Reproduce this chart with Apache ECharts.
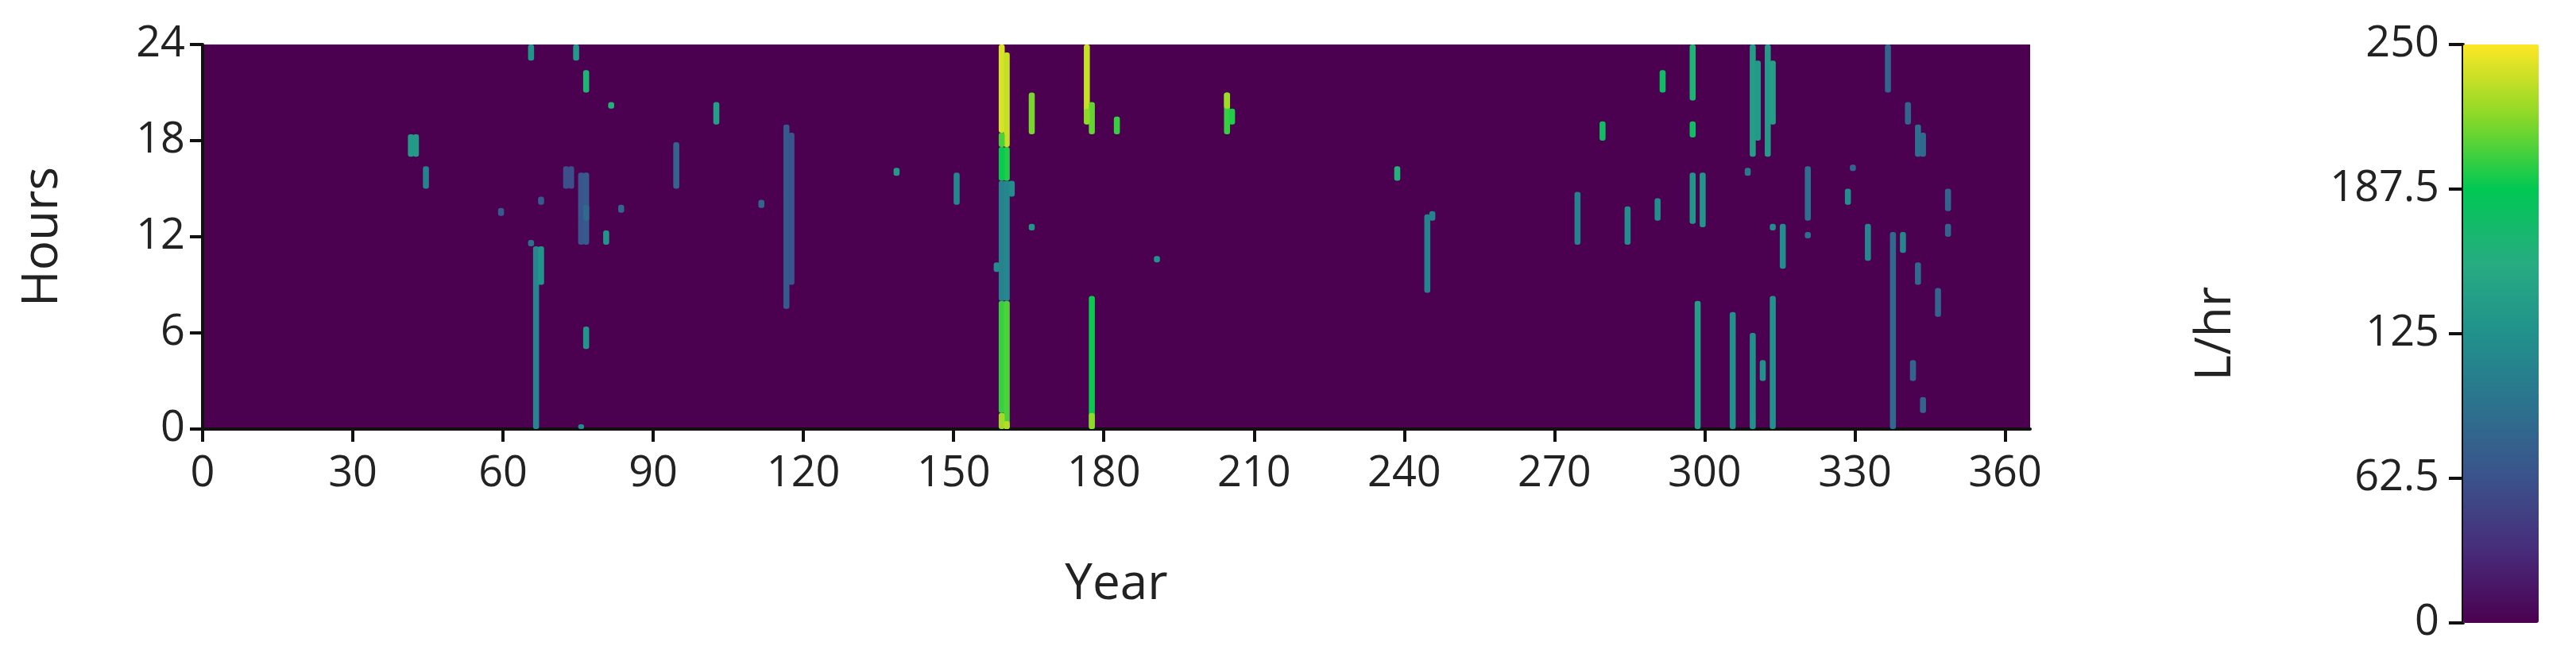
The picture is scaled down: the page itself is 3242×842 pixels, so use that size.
<!DOCTYPE html>
<html><head><meta charset="utf-8">
<script src="https://cdn.jsdelivr.net/npm/echarts@6/dist/echarts.min.js"></script>
<style>html,body{margin:0;padding:0;background:#fff}#c{width:3242px;height:842px}</style>
</head><body><div id="c"></div>
<script>
// streaks: [day, hourStart, hourEnd, L/hr]
const streaks = [
[65,23,24,130],[74,23,24,135],[76,21,22.4,165],[81,20,20.4,160],[102,19,20.4,140],
[41,17,18.4,135],[42,17,18.4,135],[44,15,16.4,110],[94,15,17.9,80],[116,7.5,19,70],[117,9,18.5,65],
[72,15,16.4,60],[73,15,16.4,60],[75,11.5,16,65],[76,11.5,16,70],[76,13,14,85],[80,11.5,12.4,130],
[83,13.5,14,80],[67,14,14.5,70],[59,13.3,13.8,70],[111,13.8,14.3,80],[65,11.4,11.8,90],
[66,0,11.4,115],[67,9,11.4,130],[76,5,6.4,130],[75,0,0.3,120],
[159,18.5,24,240],[160,17.6,23.5,235],[159,17.6,18.5,205],[160,15.5,17.6,195],[159,15.5,17.6,190],
[159,8,15.5,110],[160,8,15.5,115],[161,14.5,15.5,120],[158,9.8,10.4,120],
[159,1,8,200],[160,0,8,205],[159,0,1,225],[160,0,0.5,230],
[165,18.4,21,215],[165,12.4,12.8,130],[176,19.7,24,235],[177,18.4,20.4,210],[176,19,20,220],
[177,0,8.3,190],[177,0,1,220],[182,18.4,19.5,200],[204,18.4,21,200],[205,19,20,195],[204,20,21,225],
[190,10.4,10.8,130],[138,15.8,16.3,135],[150,14,16,115],[238,15.5,16.4,160],[244,8.5,13.4,110],[245,13,13.6,110],[274,11.5,14.8,110],
[291,21,22.4,175],[279,18,19.2,175],[297,20.5,24,165],[297,18.2,19.2,175],[297,12.8,16,130],[298,0,8,140],
[299,12.6,16,130],[309,17,24,140],[310,18,23,135],[312,17,24,135],[313,19,23,140],
[305,0,7.3,125],[309,0,6,125],[311,3,4.3,125],[313,0,8.3,125],[315,10,12.8,120],[313,12.4,12.8,120],
[308,15.8,16.3,100],[320,13,16.4,90],[320,11.9,12.3,90],[329,16.1,16.5,80],[328,14,15,120],[332,10.5,12.8,115],
[336,21,24,80],[337,0,12.3,85],[339,11,12.3,115],[340,19,20.4,80],[342,17,19,90],[343,17,18.5,85],
[342,9,10.4,85],[341,3,4.3,80],[343,1,2,80],[346,7,8.8,80],[348,13.6,15,80],[348,12,12.8,80],
[284,11.5,13.9,120],[290,13,14.4,120]
];
const xTicks=[0,30,60,90,120,150,180,210,240,270,300,330,360];
const yTicks=[0,6,12,18,24];
const cbTicks=[0,62.5,125,187.5,250];
const viridis=['#4b0150','#472c7a','#3b528b','#2c728e','#21918c','#27ad81','#00c853','#8ad828','#fde725'];
const lab={fontSize:54,color:'#222',fontFamily:'Open Sans, sans-serif'};
const nm={fontSize:62,color:'#222',fontFamily:'Open Sans, sans-serif'};
const ch=echarts.init(document.getElementById('c'));
ch.setOption({
 animation:false,
 grid:[{left:255,width:2300,top:56,height:484,show:true,backgroundColor:viridis[0],borderWidth:0},
       {left:3100,width:95,top:56,height:728,show:false}],
 xAxis:[{type:'value',gridIndex:0,min:0,max:365,
   axisLine:{show:true,lineStyle:{color:'#111',width:4}},
   axisTick:{show:true,length:16,lineStyle:{color:'#111',width:4},customValues:xTicks},
   axisLabel:Object.assign({margin:30,customValues:xTicks},lab),splitLine:{show:false},
   name:'Year',nameLocation:'middle',nameGap:165,nameTextStyle:nm},
  {type:'value',gridIndex:1,min:0,max:1,show:false}],
 yAxis:[{type:'value',gridIndex:0,min:0,max:24,interval:6,
   axisLine:{show:true,lineStyle:{color:'#111',width:4}},
   axisTick:{show:true,length:16,lineStyle:{color:'#111',width:4}},
   axisLabel:Object.assign({margin:22},lab),splitLine:{show:false},
   name:'Hours',nameLocation:'middle',nameGap:170,nameTextStyle:nm},
  {type:'value',gridIndex:1,min:0,max:250,interval:62.5,
   axisLine:{show:true,lineStyle:{color:'#111',width:4}},
   axisTick:{show:true,length:18,lineStyle:{color:'#111',width:4}},
   axisLabel:Object.assign({margin:30},lab),splitLine:{show:false},
   name:'L/hr',nameLocation:'middle',nameGap:280,nameTextStyle:nm}],
 visualMap:{type:'continuous',min:0,max:250,dimension:3,seriesIndex:0,left:3100,top:56,itemWidth:95,itemHeight:728,padding:0,
   calculable:false,text:null,showLabel:false,inRange:{color:viridis},textStyle:{fontSize:0}},
 series:[{type:'custom',xAxisIndex:0,yAxisIndex:0,data:streaks,
   renderItem:function(p,api){
     const a=api.coord([api.value(0),api.value(2)]);
     const b=api.coord([api.value(0)+1.2,api.value(1)]);
     return {type:'rect',shape:{x:a[0],y:a[1],width:b[0]-a[0],height:b[1]-a[1],r:3},style:{fill:api.visual('color')}};
   },encode:{x:0,y:[1,2]}}]
});
</script></body></html>
